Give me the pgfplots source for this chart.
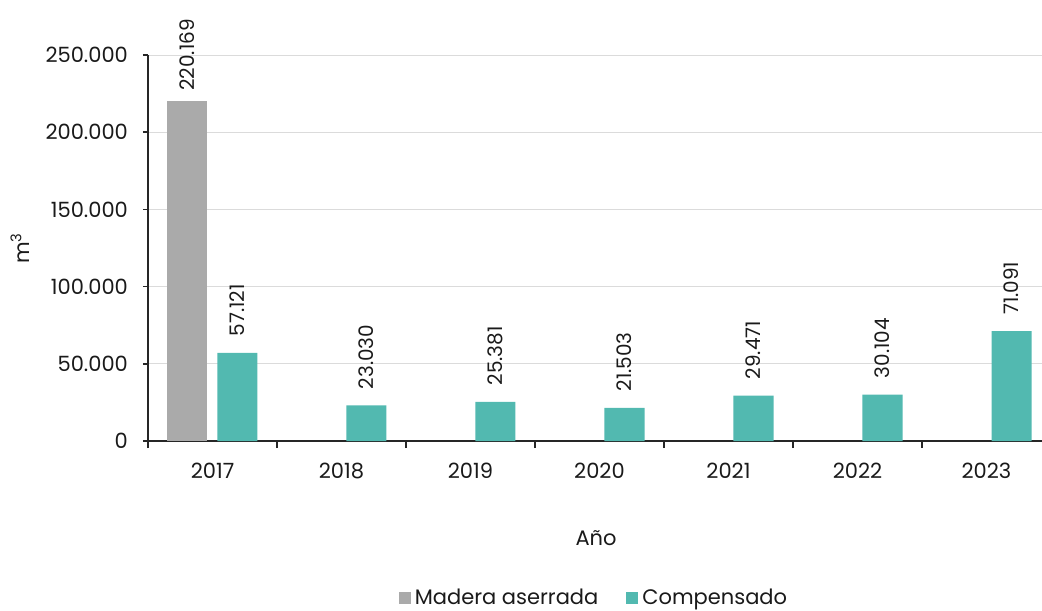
\documentclass[border=0pt]{standalone}
\usepackage{fontspec}
\setmainfont{Poppins}
\usepackage{pgfplots}
\pgfplotsset{compat=1.18}
\definecolor{gris}{HTML}{AAAAAA}
\definecolor{verde}{HTML}{52B9B0}
\definecolor{axc}{HTML}{262626}
\definecolor{txt}{HTML}{1A1A1A}
\begin{document}
\begin{tikzpicture}
\useasboundingbox (-74pt,-84.5pt) rectangle (447pt,220.5pt);
\begin{axis}[
  at={(0,0)}, anchor=south west, scale only axis,
  width=451.5pt, height=193pt,
  xmin=-0.5, xmax=6.5, ymin=0, ymax=250000,
  ybar, bar width=20pt,
  axis x line*=bottom, axis y line*=left,
  axis line style={axc, line width=1pt},
  xtick={0,1,2,3,4,5,6},
  xticklabels={2017,2018,2019,2020,2021,2022,2023},
  major x tick style={draw=none},
  minor xtick={-0.5,0.5,1.5,2.5,3.5,4.5,5.5,6.5},
  minor x tick style={axc, line width=1pt},
  minor tick length=3.5pt,
  tick align=outside,
  major tick length=2.5pt,
  ytick={0,50000,100000,150000,200000,250000},
  y tick style={axc, line width=0.8pt},
  scaled y ticks=false,
  /pgf/number format/.cd, fixed, 1000 sep={.}, assume math mode=true,
  /pgfplots/.cd,
  ymajorgrids, grid style={gray!28, line width=0.5pt},
  ticklabel style={font=\fontsize{10.5}{12}\selectfont, text=txt},
  yticklabel style={xshift=-4pt},
  xticklabel style={anchor=base, yshift=-16pt},
  every axis y label/.style={at={(axis description cs:-0.1417,0.5)}, rotate=90, anchor=center, font=\fontsize{10.5}{12}\selectfont, text=txt},
  ylabel={m\textsuperscript{3}},
  every axis x label/.style={at={(axis description cs:0.4962,-0.251)}, anchor=center, font=\fontsize{10.5}{12}\selectfont, text=txt},
  xlabel={Año},
  nodes near coords,
  nodes near coords style={rotate=90, anchor=west, inner sep=8pt, font=\fontsize{10}{12}\selectfont, text=txt},
  legend style={at={(axis description cs:0.4950,-0.407)}, anchor=center, draw=none, legend columns=2, font=\fontsize{10.5}{12}\selectfont, text=txt, /tikz/every even column/.append style={column sep=12pt}},
  legend image code/.code={\fill[#1] (0pt,-3pt) rectangle (6pt,3pt);},
]
\addplot[fill=gris, draw=none, bar shift=-12.5pt, nodes near coords style={inner sep=5pt}] coordinates {(0,220169)};
\addplot[fill=verde, draw=none, bar shift=12.5pt] coordinates {(0,57121) (1,23030) (2,25381) (3,21503) (4,29471) (5,30104) (6,71091)};
\legend{Madera aserrada, Compensado}
\end{axis}
\end{tikzpicture}
\end{document}
